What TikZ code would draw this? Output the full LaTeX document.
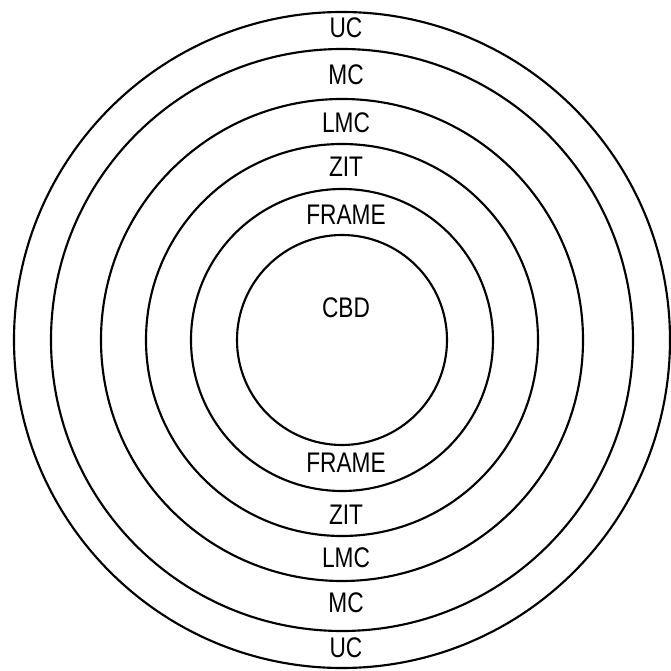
\documentclass[tikz,border=0pt]{standalone}
\usepackage{fontspec}
\setmainfont{Liberation Sans}
\usepackage{tikz}

\tikzset{
  ring/.style={line width=1.6pt},
  zone/.style={font=\fontsize{17}{20}\selectfont, inner sep=0pt, yscale=1.25}
}

\begin{document}
\begin{tikzpicture}[x=0.75pt,y=0.75pt]
            \useasboundingbox (-342,-331) rectangle (329,340);

            \foreach \r in {105, 151, 196, 241, 291, 328}
                \draw[ring] (0,0) circle (\r);

            \node[zone] (cbd) at (4,32) {CBD};

            \foreach \t/\y/\z in {uc/312/UC, mc/265/MC, lmc/217/LMC, zit/173/ZIT, frame/125/FRAME}
                \node[zone] (top-\t) at (4,\y) {\z};

            \foreach \t/\y/\z in {uc/-308/UC, mc/-263/MC, lmc/-218/LMC, zit/-175/ZIT, frame/-123/FRAME}
                \node[zone] (bot-\t) at (4,\y) {\z};
         \end{tikzpicture}
\end{document}
